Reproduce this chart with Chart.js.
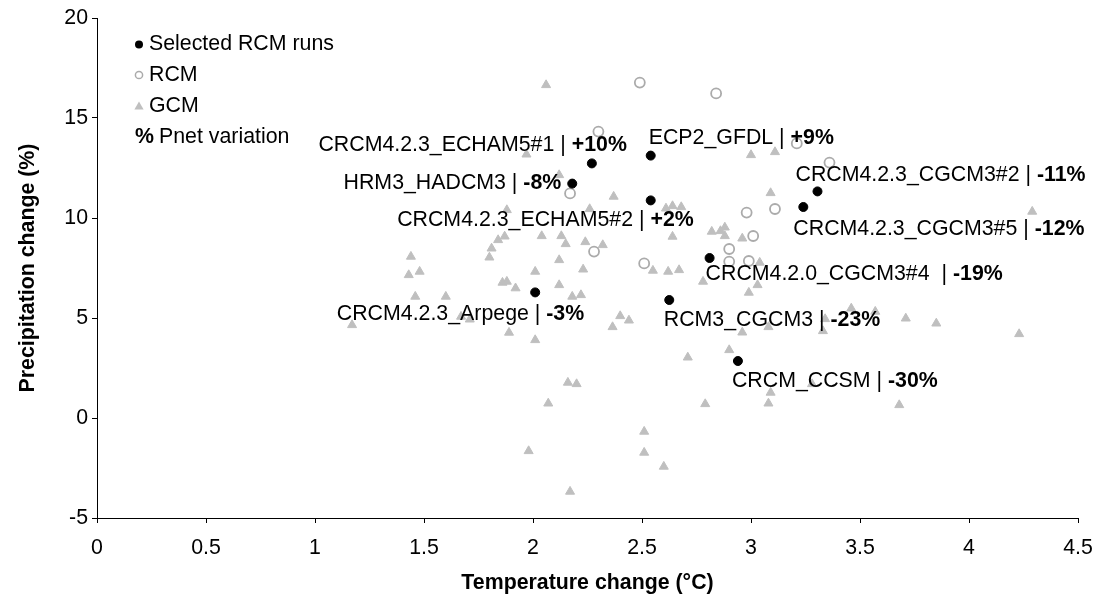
<!DOCTYPE html>
<html>
<head>
<meta charset="utf-8">
<title>Temperature vs precipitation change</title>
<script src="https://cdn.jsdelivr.net/npm/chart.js@4/dist/chart.umd.min.js"></script>
<style>
  html, body { margin: 0; padding: 0; background: #ffffff; }
  canvas { display: block; }
</style>
</head>
<body>
<canvas id="chart" width="1099" height="609"></canvas>
<script>
// Selected RCM runs: name, net precipitation variation, temperature (°C) and precipitation (%) change
const selectedNames = [
  'CRCM4.2.3_ECHAM5#1', 'ECP2_GFDL', 'HRM3_HADCM3', 'CRCM4.2.3_ECHAM5#2',
  'CRCM4.2.3_CGCM3#2', 'CRCM4.2.3_CGCM3#5', 'CRCM4.2.0_CGCM3#4 ', 'RCM3_CGCM3',
  'CRCM_CCSM', 'CRCM4.2.3_Arpege'
];
const selectedPnet = ['+10%', '+9%', '-8%', '+2%', '-11%', '-12%', '-19%', '-23%', '-30%', '-3%'];
const selectedTemp = [2.27, 2.54, 2.18, 2.54, 3.305, 3.24, 2.81, 2.625, 2.94, 2.01];
const selectedPrecip = [12.73, 13.12, 11.72, 10.88, 11.33, 10.55, 8.0, 5.9, 2.85, 6.28];

// Other RCM runs
const rcmTemp = [2.49, 2.84, 2.30, 3.21, 3.36, 2.17, 2.98, 3.11, 3.01, 2.90, 2.90, 2.99, 2.28, 2.51];
const rcmPrecip = [16.77, 16.23, 14.32, 13.73, 12.77, 11.23, 10.27, 10.45, 9.1, 8.45, 7.82, 7.85, 8.32, 7.73];

// GCM runs
const gcmTemp = [
  1.17, 1.44, 1.43, 1.48, 1.46, 1.60, 1.67, 1.71, 1.80, 1.81,
  1.84, 1.87, 1.88, 1.86, 1.88, 1.92, 1.89, 1.97, 2.01, 2.01,
  2.04, 2.06, 2.07, 1.98, 2.12, 2.12, 2.12, 2.13, 2.15, 2.16,
  2.20, 2.17, 2.18, 2.22, 2.23, 2.24, 2.26, 2.32, 2.37, 2.365,
  2.40, 2.44, 2.51, 2.51, 2.60, 2.55, 2.62, 2.67, 2.61, 2.64,
  2.68, 2.64, 2.71, 2.78, 2.79, 2.82, 2.86, 2.88, 2.88, 2.90,
  2.96, 2.96, 2.99, 3.00, 3.03, 3.04, 3.08, 3.09, 3.08, 3.09,
  3.11, 3.28, 3.34, 3.33, 3.46, 3.57, 3.68, 3.71, 3.85, 4.23,
  4.29
];
const gcmPrecip = [
  4.65, 8.07, 7.15, 7.32, 6.07, 6.07, 5.07, 4.93, 8.03, 8.48,
  8.9, 9.08, 10.4, 6.77, 6.82, 6.49, 4.27, 13.18, 3.9, 7.32,
  9.1, 16.65, 0.73, -1.65, 12.15, 7.9, 6.65, 9.1, 8.7, 1.77,
  1.7, -3.68, 6.07, 6.15, 7.43, 8.8, 10.45, 8.65, 11.07, 4.55,
  5.1, 4.88, -0.68, -1.73, -2.43, 7.37, 7.32, 7.4, 10.48, 10.6,
  10.55, 9.07, 3.03, 6.82, 0.7, 9.32, 9.35, 9.53, 9.1, 3.4,
  8.98, 4.28, 6.27, 13.15, 6.65, 7.77, 4.55, 1.27, 0.73, 11.25,
  13.3, 1.7, 4.95, 4.35, 5.48, 5.32, 0.65, 4.98, 4.73, 4.2,
  10.32
];

// Axis tick labels
const xTickLabels = ['0', '0.5', '1', '1.5', '2', '2.5', '3', '3.5', '4', '4.5'];
const yTickLabels = ['-5', '0', '5', '10', '15', '20'];

// Where each run's label sits relative to its dot (pixels)
const labelPlacement = [
  { align: 'right', dx: 35, dy: -18 },
  { align: 'left', dx: -2, dy: -17 },
  { align: 'right', dx: -11, dy: 0 },
  { align: 'right', dx: 43, dy: 20 },
  { align: 'left', dx: -22, dy: -16 },
  { align: 'left', dx: -10, dy: 22 },
  { align: 'left', dx: -4, dy: 16 },
  { align: 'left', dx: -5.5, dy: 20.5 },
  { align: 'left', dx: -6, dy: 20 },
  { align: 'right', dx: 49, dy: 21.5 }
];

const FONT_FAMILY = "'Liberation Sans', Arial, Helvetica, sans-serif";
const FONT_SIZE = 21.33;
const GCM_COLOR = '#bfbfbf';
const RCM_COLOR = '#ababab';

const toPoints = (xs, ys) => xs.map((x, i) => ({ x: x, y: ys[i] }));

function tickText(labels) {
  return (value) => {
    const hit = labels.find((l) => Math.abs(Number(l) - value) < 1e-6);
    return hit === undefined ? '' : hit;
  };
}

// Run labels: model name in regular weight, Pnet variation in bold
const runLabels = {
  id: 'runLabels',
  afterDatasetsDraw(chart) {
    const ctx = chart.ctx;
    const meta = chart.getDatasetMeta(0);
    ctx.save();
    ctx.fillStyle = '#000000';
    ctx.textBaseline = 'middle';
    ctx.textAlign = 'left';
    meta.data.forEach((pt, i) => {
      const place = labelPlacement[i];
      const plain = selectedNames[i] + ' | ';
      const bold = selectedPnet[i];
      ctx.font = `${FONT_SIZE}px ${FONT_FAMILY}`;
      const wPlain = ctx.measureText(plain).width;
      ctx.font = `bold ${FONT_SIZE}px ${FONT_FAMILY}`;
      const wBold = ctx.measureText(bold).width;
      const ax = pt.x + place.dx;
      const y = pt.y + place.dy;
      const x0 = place.align === 'right' ? ax - wPlain - wBold : ax;
      ctx.font = `${FONT_SIZE}px ${FONT_FAMILY}`;
      ctx.fillText(plain, x0, y);
      ctx.font = `bold ${FONT_SIZE}px ${FONT_FAMILY}`;
      ctx.fillText(bold, x0 + wPlain, y);
    });
    ctx.restore();
  }
};

// Legend block in the upper-left corner of the plot
const cornerLegend = {
  id: 'cornerLegend',
  afterDraw(chart) {
    const ctx = chart.ctx;
    const area = chart.chartArea;
    const mx = area.left + 42;
    const tx = area.left + 52;
    const rows = [area.top + 26.5, area.top + 57, area.top + 88, area.top + 119];
    ctx.save();
    ctx.textBaseline = 'middle';
    ctx.textAlign = 'left';
    ctx.fillStyle = '#000000';
    ctx.font = `${FONT_SIZE}px ${FONT_FAMILY}`;

    // filled black dot
    ctx.beginPath();
    ctx.arc(mx, rows[0], 4, 0, Math.PI * 2);
    ctx.fill();
    ctx.fillText('Selected RCM runs', tx, rows[0]);

    // open grey circle
    ctx.beginPath();
    ctx.arc(mx, rows[1], 3.6, 0, Math.PI * 2);
    ctx.lineWidth = 1.5;
    ctx.strokeStyle = RCM_COLOR;
    ctx.stroke();
    ctx.fillText('RCM', tx, rows[1]);

    // grey triangle
    ctx.beginPath();
    ctx.moveTo(mx, rows[2] - 4.5);
    ctx.lineTo(mx + 4.6, rows[2] + 3.5);
    ctx.lineTo(mx - 4.6, rows[2] + 3.5);
    ctx.closePath();
    ctx.fillStyle = GCM_COLOR;
    ctx.fill();
    ctx.fillStyle = '#000000';
    ctx.fillText('GCM', tx, rows[2]);

    // Pnet variation key
    ctx.font = `bold ${FONT_SIZE}px ${FONT_FAMILY}`;
    ctx.fillText('%', area.left + 38, rows[3]);
    ctx.font = `${FONT_SIZE}px ${FONT_FAMILY}`;
    ctx.fillText('Pnet variation', area.left + 62, rows[3]);
    ctx.restore();
  }
};

const axisFont = { family: FONT_FAMILY, size: FONT_SIZE };
const titleFont = { family: FONT_FAMILY, size: FONT_SIZE, weight: 'bold' };

new Chart(document.getElementById('chart'), {
  type: 'scatter',
  data: {
    datasets: [
      {
        label: 'Selected RCM runs',
        data: toPoints(selectedTemp, selectedPrecip),
        pointStyle: 'circle',
        pointRadius: 4.5,
        pointBorderWidth: 1,
        backgroundColor: '#000000',
        borderColor: '#000000'
      },
      {
        label: 'RCM',
        data: toPoints(rcmTemp, rcmPrecip),
        pointStyle: 'circle',
        pointRadius: 5,
        pointBorderWidth: 1.8,
        backgroundColor: 'rgba(255,255,255,0)',
        borderColor: RCM_COLOR
      },
      {
        label: 'GCM',
        data: toPoints(gcmTemp, gcmPrecip),
        pointStyle: 'triangle',
        pointRadius: 5.2,
        pointBorderWidth: 1,
        backgroundColor: GCM_COLOR,
        borderColor: GCM_COLOR
      }
    ]
  },
  options: {
    responsive: false,
    animation: false,
    devicePixelRatio: 1,
    layout: { padding: { top: 18, right: 21, left: 0, bottom: 0 } },
    plugins: {
      legend: { display: false },
      tooltip: { enabled: false }
    },
    scales: {
      x: {
        type: 'linear',
        position: 'bottom',
        min: 0,
        max: 4.5,
        afterFit(scale) {
          scale.height = 91;
          scale.paddingLeft = 0;
          scale.paddingRight = 0;
        },
        ticks: {
          stepSize: 0.5,
          padding: 12,
          color: '#000000',
          font: axisFont,
          maxRotation: 0,
          autoSkip: false,
          callback: tickText(xTickLabels)
        },
        grid: { display: true, drawOnChartArea: false, drawTicks: true, tickLength: 5, color: '#000000' },
        border: { display: true, color: '#000000', width: 1 },
        title: {
          display: true,
          text: 'Temperature change (°C)',
          color: '#000000',
          font: titleFont,
          padding: { top: 0, bottom: 13 }
        }
      },
      y: {
        type: 'linear',
        position: 'left',
        min: -5,
        max: 20,
        afterFit(scale) {
          scale.width = 97;
          scale.paddingTop = 0;
          scale.paddingBottom = 0;
        },
        ticks: {
          stepSize: 5,
          padding: 4,
          color: '#000000',
          font: axisFont,
          autoSkip: false,
          callback: tickText(yTickLabels)
        },
        grid: { display: true, drawOnChartArea: false, drawTicks: true, tickLength: 5, color: '#000000' },
        border: { display: true, color: '#000000', width: 1 },
        title: {
          display: true,
          text: 'Precipitation change (%)',
          color: '#000000',
          font: titleFont,
          padding: { top: 15, bottom: 0 }
        }
      }
    }
  },
  plugins: [runLabels, cornerLegend]
});
</script>
</body>
</html>
